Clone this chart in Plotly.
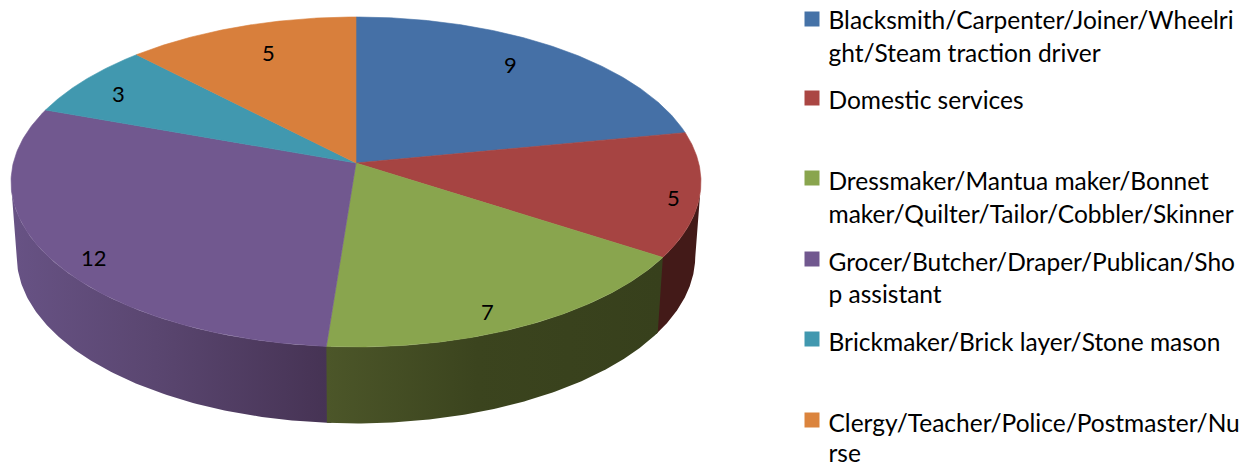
import numpy as np
import plotly.graph_objects as go

categories = [
    "Blacksmith/Carpenter/Joiner/Wheelri<br>ght/Steam traction driver",
    "Domestic services",
    "Dressmaker/Mantua maker/Bonnet<br>maker/Quilter/Tailor/Cobbler/Skinner",
    "Grocer/Butcher/Draper/Publican/Sho<br>p assistant",
    "Brickmaker/Brick layer/Stone mason",
    "Clergy/Teacher/Police/Postmaster/Nu<br>rse",
]
values = [9, 5, 7, 12, 3, 5]
top_colors = ["#4570A6", "#A64442", "#89A54E", "#71588F", "#4198AF", "#D87F3C"]
swatch_colors = ["#4572A7", "#AA4643", "#89A54E", "#71588F", "#4198AF", "#DB843D"]

# Projection of the tilted disc onto the pixel-sized axes
CX, CY, A, B, K = 356, 163, 342.7, 162.8, 0.115
BASE_CY, BASE_A, BASE_B = 237, 337, 165


def top(theta):
    d = 1 + K * np.cos(theta)
    return CX + A * np.sin(theta) / d, CY - B * np.cos(theta) / d


def base(theta):
    d = 1 + K * np.cos(theta)
    return CX + BASE_A * np.sin(theta) / d, BASE_CY - BASE_B * np.cos(theta) / d


edges = np.concatenate([[0], np.cumsum(values)]) / sum(values) * 2 * np.pi
SILH_R, SILH_L = np.radians(97), np.radians(263)
OVERLAP = 0.012

fig = go.Figure()


def wall(t0, t1, stops, x0, x1):
    th = np.linspace(t0, t1, 120)
    tx, ty = top(th)
    bx, by = base(th[::-1])
    fig.add_trace(go.Scatter(
        x=np.concatenate([tx, bx]), y=np.concatenate([ty, by]),
        mode="lines", fill="toself", line=dict(width=0),
        fillgradient=dict(type="horizontal", colorscale=stops, start=x0, stop=x1),
        hoverinfo="skip", showlegend=False))


# Side walls: values 2, 3 and 4 are the only slices with a visible outer wall
wall(edges[3] - OVERLAP, SILH_L, [[0, "#675284"], [0.45, "#5A4670"], [1, "#463354"]], 15, 327)
wall(SILH_R, edges[2] + OVERLAP, [[0, "#431A18"], [1, "#431A18"]], 650, 700)
wall(edges[2], edges[3], [[0, "#4C5629"], [0.45, "#3B441E"], [1, "#37401C"]], 327, 661)

# Top faces
for i, col in enumerate(top_colors):
    th = np.linspace(edges[i], edges[i + 1], 160)
    ex, ey = top(th)
    fig.add_trace(go.Scatter(
        x=np.concatenate([[CX], ex, [CX]]), y=np.concatenate([[CY], ey, [CY]]),
        mode="lines", fill="toself", fillcolor=col, line=dict(color=col, width=0.6),
        hoverinfo="skip", showlegend=False))

FONT = "Lato, Carlito, Calibri, sans-serif"
annotations = []

# Data labels
label_xy = [(510, 64), (673, 197), (487, 311), (94, 257), (118, 93), (268, 52)]
for v, (lx, ly) in zip(values, label_xy):
    annotations.append(dict(x=lx, y=ly, text=str(v), showarrow=False, xref="x", yref="y",
                            font=dict(family=FONT, size=22, color="#000000")))

# Legend
swatch_y = [19, 98, 178, 259, 339, 420]
text_y = [23, 103, 184, 264.5, 345, 425.5]
line_gaps = [32.5, 32.5, 32.5, 32.5, 32.5, 30]
fig.add_trace(go.Scatter(
    x=[812] * len(swatch_y), y=swatch_y, mode="markers",
    marker=dict(symbol="square", size=15, color=swatch_colors, line=dict(width=0)),
    hoverinfo="skip", showlegend=False))
line_x, line_y, line_text = [], [], []
for name, ty, gap in zip(categories, text_y, line_gaps):
    for j, line in enumerate(name.split("<br>")):
        line_x.append(828.5)
        line_y.append(ty + j * gap)
        line_text.append(line)
fig.add_trace(go.Scatter(
    x=line_x, y=line_y, text=line_text, mode="text", textposition="middle right",
    textfont=dict(family=FONT, size=24.5, color="#000000"), cliponaxis=False,
    hoverinfo="skip", showlegend=False))

fig.update_layout(
    width=1250, height=466, margin=dict(l=0, r=0, t=0, b=0),
    paper_bgcolor="#FFFFFF", plot_bgcolor="#FFFFFF", showlegend=False,
    xaxis=dict(range=[0, 1250], visible=False, fixedrange=True),
    yaxis=dict(range=[466, 0], visible=False, fixedrange=True),
    annotations=annotations,
)
fig.write_html("out.html", config={"displayModeBar": False},
               post_script="document.body.style.margin='0';")
